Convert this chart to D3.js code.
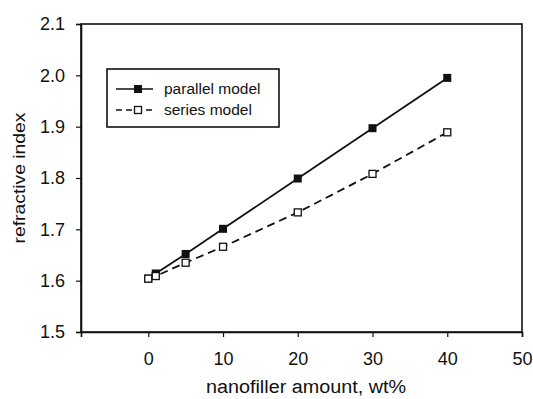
<!DOCTYPE html>
<html>
<head>
<meta charset="utf-8">
<script src="https://cdn.jsdelivr.net/npm/d3@7"></script>
<style>
  body { margin: 0; background: #fff; }
  text { font-family: "Liberation Sans", Arial, sans-serif; fill: #111; }
</style>
</head>
<body>
<div id="chart"></div>
<script>
// data
const amounts = [0, 1, 5, 10, 20, 30, 40];
const parallelValues = [1.604, 1.614, 1.652, 1.701, 1.799, 1.897, 1.995];
const seriesValues = [1.604, 1.609, 1.635, 1.666, 1.733, 1.808, 1.889];
const xTicks = [0, 10, 20, 30, 40, 50];
const yTicks = [1.5, 1.6, 1.7, 1.8, 1.9, 2.0, 2.1];
const seriesNames = ["parallel model", "series model"];

const width = 533, height = 399;
const margin = { top: 24, right: 11, bottom: 67, left: 81 };

const svg = d3.select("#chart").append("svg")
    .attr("width", width)
    .attr("height", height);

const x_scale = d3.scaleLinear()
    .domain([-9, 50])
    .range([margin.left, width - margin.right]);

const y_scale = d3.scaleLinear()
    .domain([1.5, 2.1])
    .range([height - margin.bottom, margin.top]);

// frame
svg.append("rect")
    .attr("x", margin.left)
    .attr("y", margin.top)
    .attr("width", width - margin.left - margin.right)
    .attr("height", height - margin.top - margin.bottom)
    .attr("fill", "none")
    .attr("stroke", "#111")
    .attr("stroke-width", 1.6);

// axes
const xAxis = svg.append("g")
    .attr("transform", "translate(0," + (height - margin.bottom) + ")")
    .call(d3.axisBottom(x_scale).tickValues(xTicks).tickSize(5).tickPadding(15).tickFormat(d3.format("d")));

const yAxis = svg.append("g")
    .attr("transform", "translate(" + margin.left + ",0)")
    .call(d3.axisLeft(y_scale).tickValues(yTicks).tickSize(5).tickPadding(11).tickFormat(d3.format(".1f")));

[xAxis, yAxis].forEach(ax => {
  ax.select(".domain").attr("stroke", "#111").attr("stroke-width", 1.6);
  ax.selectAll(".tick line").attr("stroke", "#111").attr("stroke-width", 1.2);
  ax.selectAll(".tick text")
    .attr("font-family", "'Liberation Sans', Arial, sans-serif")
    .attr("font-size", 18)
    .attr("fill", "#111");
});

// axis titles
svg.append("text")
    .attr("x", 306)
    .attr("y", 393)
    .attr("text-anchor", "middle")
    .attr("font-size", 18)
    .attr("textLength", 200)
    .attr("lengthAdjust", "spacingAndGlyphs")
    .text("nanofiller amount, wt%");

svg.append("text")
    .attr("transform", "translate(25,178) rotate(-90)")
    .attr("text-anchor", "middle")
    .attr("font-size", 17)
    .attr("textLength", 131)
    .attr("lengthAdjust", "spacingAndGlyphs")
    .text("refractive index");

// lines
const line = d3.line()
    .x(d => x_scale(d[0]))
    .y(d => y_scale(d[1]));

const parallelData = amounts.map((a, i) => [a, parallelValues[i]]);
const seriesData = amounts.map((a, i) => [a, seriesValues[i]]);

svg.append("path")
    .datum(parallelData)
    .attr("d", line)
    .attr("fill", "none")
    .attr("stroke", "#111")
    .attr("stroke-width", 1.8);

svg.append("path")
    .datum(seriesData)
    .attr("d", line)
    .attr("fill", "none")
    .attr("stroke", "#111")
    .attr("stroke-width", 1.8)
    .attr("stroke-dasharray", "8,5");

const ms = 8;
svg.append("g").selectAll("rect")
    .data(parallelData)
    .enter().append("rect")
    .attr("x", d => x_scale(d[0]) - ms / 2)
    .attr("y", d => y_scale(d[1]) - ms / 2)
    .attr("width", ms)
    .attr("height", ms)
    .attr("fill", "#111");

svg.append("g").selectAll("rect")
    .data(seriesData)
    .enter().append("rect")
    .attr("x", d => x_scale(d[0]) - ms / 2 + 0.5)
    .attr("y", d => y_scale(d[1]) - ms / 2 + 0.5)
    .attr("width", ms - 1)
    .attr("height", ms - 1)
    .attr("fill", "#fff")
    .attr("stroke", "#111")
    .attr("stroke-width", 1.3);

// legend
const legend = svg.append("g").attr("transform", "translate(107,69)");
legend.append("rect")
    .attr("width", 172)
    .attr("height", 58)
    .attr("fill", "#fff")
    .attr("stroke", "#111")
    .attr("stroke-width", 1.6);

seriesNames.forEach((name, i) => {
  const ly = 20 + i * 21;
  legend.append("line")
      .attr("x1", 9).attr("x2", 46)
      .attr("y1", ly).attr("y2", ly)
      .attr("stroke", "#111")
      .attr("stroke-width", 1.6)
      .attr("stroke-dasharray", i === 0 ? null : "6,4");
  legend.append("rect")
      .attr("x", 31 - ms / 2 + (i ? 0.5 : 0))
      .attr("y", ly - ms / 2 + (i ? 0.5 : 0))
      .attr("width", i ? ms - 1 : ms)
      .attr("height", i ? ms - 1 : ms)
      .attr("fill", i ? "#fff" : "#111")
      .attr("stroke", i ? "#111" : "none")
      .attr("stroke-width", 1.3);
  legend.append("text")
      .attr("x", 57)
      .attr("y", ly + 5)
      .attr("font-size", 15.5)
      .text(name);
});
</script>
</body>
</html>
